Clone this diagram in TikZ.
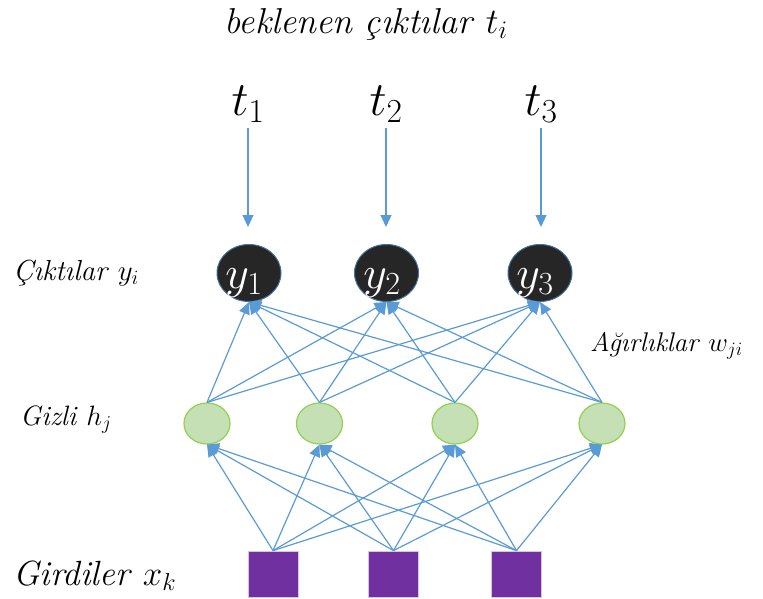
\documentclass[tikz,border=0pt]{standalone}
\usepackage{fix-cm}
\usetikzlibrary{arrows.meta,shapes.geometric}
\definecolor{lblue}{HTML}{5B9BD5}
\definecolor{odark}{HTML}{262626}
\definecolor{oedge}{HTML}{41719C}
\definecolor{hfill}{HTML}{C5E0B4}
\definecolor{hedge}{HTML}{92D050}
\definecolor{ipurp}{HTML}{7030A0}
\definecolor{iedge}{HTML}{D9C3E9}
\tikzset{
  conn/.style={draw=lblue, line width=1.2pt, -{Triangle[length=12pt,width=11pt]}},
  outnode/.style={ellipse, fill=odark, draw=oedge, line width=1pt, minimum width=64pt, minimum height=57pt, inner sep=0pt},
  hidnode/.style={ellipse, fill=hfill, draw=hedge, line width=1.2pt, minimum width=46pt, minimum height=41pt, inner sep=0pt},
  innode/.style={rectangle, fill=ipurp, draw=iedge, line width=0.8pt, minimum width=50pt, minimum height=46pt, inner sep=0pt},
  lab/.style={anchor=base west, inner sep=0pt},
}
\begin{document}
\begin{tikzpicture}[x=1pt,y=-1pt]
\useasboundingbox (0,0) rectangle (763,598);
% top label
\node[anchor=base, inner sep=0pt, font=\fontsize{36}{40}\selectfont] (top) at (366,33) {\textit{beklenen çıktılar} $t_i$};
% t labels
\node[anchor=base, inner sep=0pt, font=\fontsize{48}{52}\selectfont] (t1) at (248,115) {$t_1$};
\node[anchor=base, inner sep=0pt, font=\fontsize{48}{52}\selectfont] (t2) at (386,115) {$t_2$};
\node[anchor=base, inner sep=0pt, font=\fontsize{48}{52}\selectfont] (t3) at (541,115) {$t_3$};
\coordinate (ta1) at (248,128); \coordinate (tb1) at (248,227);
\coordinate (ta2) at (386,128); \coordinate (tb2) at (386,227);
\coordinate (ta3) at (541,128); \coordinate (tb3) at (541,227);
% outputs
\node[outnode] (o1) at (249,273) {};
\node[outnode] (o2) at (386.5,273) {};
\node[outnode] (o3) at (540,273) {};
\node[anchor=base, inner sep=0pt, text=white, font=\fontsize{46}{50}\selectfont] (yl1) at (244,288) {$y_1$};
\node[anchor=base, inner sep=0pt, text=white, font=\fontsize{46}{50}\selectfont] (yl2) at (382,288) {$y_2$};
\node[anchor=base, inner sep=0pt, text=white, font=\fontsize{46}{50}\selectfont] (yl3) at (535,288) {$y_3$};
% hidden
\node[hidnode] (h1) at (207,423.5) {};
\node[hidnode] (h2) at (319.5,423.5) {};
\node[hidnode] (h3) at (455,423.5) {};
\node[hidnode] (h4) at (602,423.5) {};
% inputs
\node[innode] (x1) at (273,574) {};
\node[innode] (x2) at (393.5,574) {};
\node[innode] (x3) at (516.5,574) {};
% t arrows
\draw[conn] (ta1) -- (tb1);
\draw[conn] (ta2) -- (tb2);
\draw[conn] (ta3) -- (tb3);
% hidden -> output
\foreach \h in {1,2,3,4}{
  \foreach \o in {1,2,3}{
    \draw[conn] (h\h.north) -- (o\o.south);
  }
}
% input -> hidden
\foreach \x in {1,2,3}{
  \foreach \h in {1,2,3,4}{
    \draw[conn] (x\x.north) -- (h\h.south);
  }
}
% side labels
\node[lab, font=\fontsize{29}{33}\selectfont] (lo) at (13,280) {\textit{Çıktılar} $y_i$};
\node[lab, font=\fontsize{28}{32}\selectfont] (lh) at (20,425) {\textit{Gizli} $h_j$};
\node[lab, font=\fontsize{35}{39}\selectfont] (li) at (13,585) {\textit{Girdiler} $x_k$};
\node[lab, font=\fontsize{27}{31}\selectfont] (lw) at (590,351) {\textit{Ağırlıklar} $w_{ji}$};
\end{tikzpicture}
\end{document}
